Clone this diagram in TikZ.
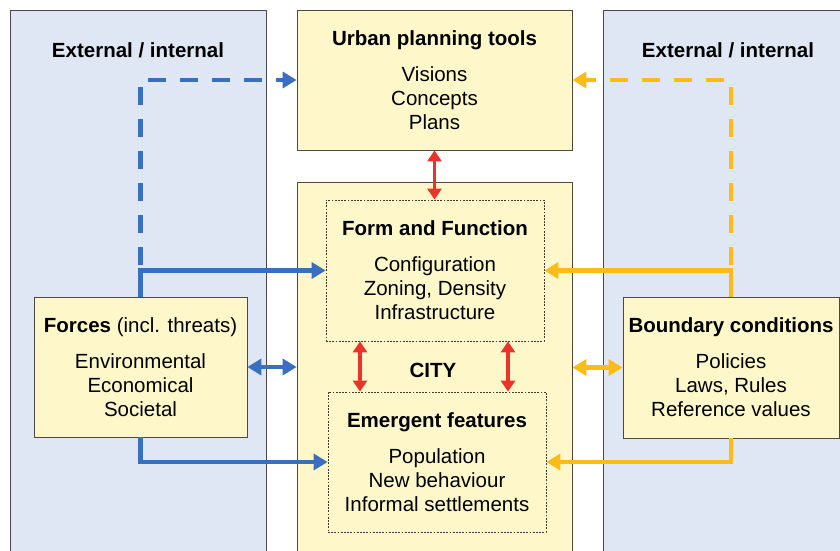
\documentclass[tikz,border=0pt]{standalone}
\usepackage{fontspec}
\setmainfont{Liberation Sans}
\usetikzlibrary{arrows.meta}
\definecolor{panelblue}{RGB}{222,231,243}
\definecolor{boxyellow}{RGB}{253,247,202}
\definecolor{edgegray}{RGB}{80,70,66}
\definecolor{arrblue}{RGB}{58,110,190}
\definecolor{arrorange}{RGB}{252,188,24}
\definecolor{arrred}{RGB}{234,52,42}
\begin{document}
\begin{tikzpicture}[x=1pt,y=-1pt,
  txt/.style={font=\fontsize{20.5}{24}\selectfont},
  panel/.style={draw=edgegray,line width=0.8pt,fill=panelblue,anchor=north west,inner sep=0pt},
  ybox/.style={draw=edgegray,line width=0.8pt,fill=boxyellow,inner sep=0pt,align=center,txt},
  dbox/.style={draw=edgegray!80!black,line width=0.8pt,dash pattern=on 1.8pt off 1.4pt,inner sep=0pt,align=center,txt},
  heading/.style={txt,font=\fontsize{20.5}{24}\selectfont\bfseries},
  bluearrow/.style={draw=arrblue,line width=4.5pt,-{Triangle[length=14pt,width=16pt]}},
  bluedbl/.style={draw=arrblue,line width=4.5pt,{Triangle[length=14pt,width=16pt]}-{Triangle[length=14pt,width=16pt]}},
  orangearrow/.style={draw=arrorange,line width=4.5pt,-{Triangle[length=14pt,width=16pt]}},
  orangedbl/.style={draw=arrorange,line width=4.5pt,{Triangle[length=14pt,width=16pt]}-{Triangle[length=14pt,width=16pt]}},
  dashline/.style={dash pattern=on 18pt off 14pt},
  redarrow/.style={draw=arrred,line width=3.3pt,{Triangle[length=11pt,width=14pt]}-{Triangle[length=11pt,width=14pt]}}
]
\useasboundingbox (0,0) rectangle (840,551);
\fill[white] (0,0) rectangle (840,551);
\clip (0,0) rectangle (840,551);

% side panels
\node[panel,minimum width=256pt,minimum height=560pt] (lpanel) at (10,10) {};
\node[panel,minimum width=250pt,minimum height=560pt] (rpanel) at (603,10) {};
\node[heading] (lext) at (138,50) {External / internal};
\node[heading] (rext) at (728,50) {External / internal};

% central boxes
\node[ybox,minimum width=275pt,minimum height=140pt] (tools) at (434.5,80)
  {\textbf{Urban planning tools}\\[12pt]Visions\\Concepts\\Plans};
\node[ybox,anchor=north,minimum width=275pt,minimum height=390pt] (city) at (434.5,182) {};
\node[dbox,minimum width=218pt,minimum height=141pt] (form) at (435,270.5)
  {\textbf{Form and Function}\\[12pt]Configuration\\Zoning, Density\\Infrastructure};
\node[heading] (citylbl) at (433,370) {CITY};
\node[dbox,minimum width=218pt,minimum height=140pt] (emerg) at (437,462)
  {\textbf{Emergent features}\\[12pt]Population\\New behaviour\\Informal settlements};

% side boxes
\node[ybox,minimum width=213pt,minimum height=140pt] (forces) at (140.5,367)
  {\textbf{Forces} (incl. threats)\\[12pt]Environmental\\Economical\\Societal};
\node[ybox,minimum width=216pt,minimum height=141pt] (bound) at (731,367.5)
  {\textbf{Boundary conditions}\\[12pt]Policies\\Laws, Rules\\Reference values};

% blue connectors
\draw[bluearrow,dashline] (forces.north) |- (tools.west);
\draw[bluearrow] (forces.north) |- (form.west);
\draw[bluearrow] (forces.south) |- (emerg.west);
\draw[bluedbl] (forces.east) -- (forces.east -| city.west);

% orange connectors
\draw[orangearrow,dashline] (bound.north) |- (tools.east);
\draw[orangearrow] (bound.north) |- (form.east);
\draw[orangearrow] (bound.south) |- (emerg.east);
\draw[orangedbl] (bound.west) -- (bound.west -| city.east);

% red connectors
\draw[redarrow] (tools.south) -- (tools.south |- form.north);
\draw[redarrow] ([xshift=-75pt]form.south) -- ([xshift=-75pt]form.south |- emerg.north);
\draw[redarrow] ([xshift=73pt]form.south) -- ([xshift=73pt]form.south |- emerg.north);
\end{tikzpicture}
\end{document}
